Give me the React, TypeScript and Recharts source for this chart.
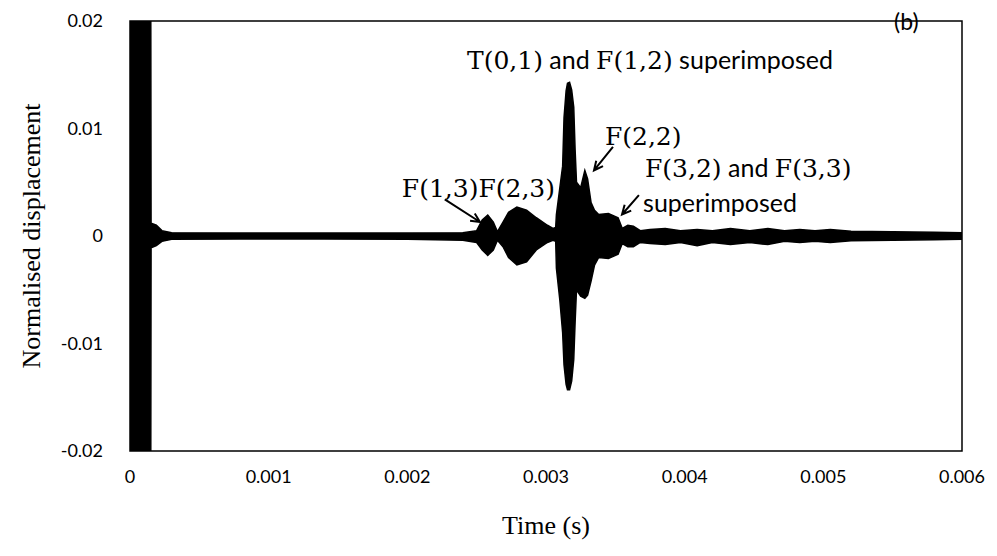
import React from "react"
import {
  ComposedChart,
  Area,
  XAxis,
  YAxis,
  ReferenceArea,
  ReferenceDot,
  ReferenceLine,
  Label,
} from "recharts"

// envelope of the normalised displacement trace
const TIME_S = [
  0, 0.00015, 0.000152, 0.00019, 0.00023, 0.0003, 0.0008, 0.0014, 0.002, 0.0024,
  0.0025, 0.00254, 0.00258, 0.00262, 0.00265, 0.00269, 0.00273, 0.00279, 0.00286, 0.00293,
  0.00301, 0.00305, 0.00307, 0.003075, 0.0031, 0.00312, 0.00313, 0.003145, 0.003155, 0.00317,
  0.003185, 0.0032, 0.00321, 0.00322, 0.00325, 0.00328, 0.0033, 0.003325, 0.00335, 0.00338,
  0.00345, 0.00352, 0.00355, 0.00359, 0.00363, 0.00368, 0.00375, 0.00386, 0.00397, 0.00409,
  0.0042, 0.00433, 0.00447, 0.0046, 0.00472, 0.00483, 0.00494, 0.00505, 0.0052, 0.0055,
  0.0058, 0.006,
]
const UPPER = [
  0.02, 0.02, 0.0012, 0.001, 0.0005, 0.0003, 0.00028, 0.00028, 0.00028, 0.0003,
  0.0005, 0.0015, 0.00195, 0.0013, 0.0004, 0.0013, 0.0022, 0.0027, 0.0024, 0.0017,
  0.001, 0.0007, 0.0008, 0.002, 0.0045, 0.0065, 0.011, 0.0135, 0.0142, 0.0143,
  0.0136, 0.012, 0.008, 0.005, 0.0045, 0.0061, 0.0053, 0.0031, 0.0024, 0.002,
  0.0021, 0.0017, 0.0007, 0.001, 0.0009, 0.0005, 0.0006, 0.0007, 0.0005, 0.0006,
  0.0005, 0.0007, 0.0005, 0.0007, 0.0005, 0.0006, 0.0005, 0.0006, 0.00045, 0.0004,
  0.00035, 0.0003,
]
const LOWER = [
  -0.02, -0.02, -0.0011, -0.0009, -0.0005, -0.0003, -0.00028, -0.00028, -0.0003, -0.0004,
  -0.0006, -0.0013, -0.0018, -0.0013, -0.0004, -0.001, -0.002, -0.0027, -0.0024, -0.0013,
  -0.0006, -0.0004, -0.0005, -0.003, -0.006, -0.009, -0.012, -0.0138, -0.0143, -0.0143,
  -0.0135, -0.0115, -0.008, -0.005, -0.0056, -0.0058, -0.0055, -0.0042, -0.0027, -0.002,
  -0.0021, -0.0017, -0.0007, -0.001, -0.001, -0.0006, -0.0007, -0.0008, -0.0006, -0.0009,
  -0.0006, -0.0008, -0.0006, -0.0008, -0.0005, -0.0006, -0.0005, -0.0006, -0.00045, -0.0004,
  -0.00035, -0.0003,
]

const X_TICKS = [0, 0.001, 0.002, 0.003, 0.004, 0.005, 0.006]
const Y_TICKS = [-0.02, -0.01, 0, 0.01, 0.02]

const SERIF = "DejaVu Serif"
const SANS = "Lato"

// text notes: anchor (time, value) at the start of the baseline
const NOTES = [
  { t: 0.00243, v: 0.0155, size: 25, parts: [["T(0,1)", SERIF], [" and ", SANS], ["F(1,2)", SERIF], [" superimposed", SANS]] },
  { t: 0.00196, v: 0.0036, size: 25, parts: [["F(1,3)F(2,3)", SERIF]] },
  { t: 0.003425, v: 0.0085, size: 25, parts: [["F(2,2)", SERIF]] },
  { t: 0.003714, v: 0.0055, size: 25, parts: [["F(3,2)", SERIF], [" and ", SANS], ["F(3,3)", SERIF]] },
  { t: 0.0037, v: 0.0022, size: 25, parts: [["superimposed", SANS]] },
  { t: 0.00551, v: 0.0192, size: 23, parts: [["(b)", SANS]] },
]

const ARROWS = [
  { from: [0.00227, 0.0034], to: [0.002524, 0.0013] },
  { from: [0.003483, 0.0083], to: [0.003346, 0.0061] },
  { from: [0.00367, 0.0038], to: [0.003548, 0.002] },
]

const data = TIME_S.map((t, i) => ({ t, band: [LOWER[i], UPPER[i]] }))

const fmt = (v: number) => String(v)

const noteShape = (parts: string[][], size: number) => (p: any) => (
  <text x={p.cx} y={p.cy} fill="#000" style={{ whiteSpace: "pre", fontSize: size }}>
    {parts.map(([txt, fam], i) => (
      <tspan key={i} style={{ fontFamily: fam, fontSize: size }}>
        {txt}
      </tspan>
    ))}
  </text>
)

const arrowShape = (p: any) => {
  const { x1, y1, x2, y2 } = p
  const a = Math.atan2(y2 - y1, x2 - x1)
  const h = 10
  const hx1 = x2 - h * Math.cos(a - 0.45)
  const hy1 = y2 - h * Math.sin(a - 0.45)
  const hx2 = x2 - h * Math.cos(a + 0.45)
  const hy2 = y2 - h * Math.sin(a + 0.45)
  return (
    <path
      d={`M${x1},${y1}L${x2},${y2}M${hx1},${hy1}L${x2},${y2}L${hx2},${hy2}`}
      stroke="#000"
      strokeWidth={2}
      fill="none"
    />
  )
}

export default function App() {
  return (
    <div style={{ position: "absolute", left: 0, top: 0, width: 997, height: 556, background: "#fff" }}>
      <ComposedChart width={997} height={556} data={data} margin={{ top: 21, right: 35, bottom: 0, left: 0 }}>
        <XAxis
          dataKey="t"
          type="number"
          domain={[0, 0.006]}
          ticks={X_TICKS}
          tickFormatter={fmt}
          height={105}
          axisLine={false}
          tickLine={false}
          tickMargin={13}
          tick={{ fontSize: 18, fill: "#000", fontFamily: SANS }}
        >
          <Label
            content={(p: any) => (
              <text
                x={p.viewBox.x + p.viewBox.width / 2}
                y={p.viewBox.y + 83}
                textAnchor="middle"
                fontFamily="Liberation Serif"
                fontSize={26}
                fill="#000"
              >
                Time (s)
              </text>
            )}
          />
        </XAxis>
        <YAxis
          type="number"
          domain={[-0.02, 0.02]}
          ticks={Y_TICKS}
          tickFormatter={fmt}
          allowDataOverflow
          width={130}
          axisLine={false}
          tickLine={false}
          tickMargin={21}
          tick={{ fontSize: 18, fill: "#000", fontFamily: SANS }}
        >
          <Label
            content={(p: any) => {
              const cx = p.viewBox.x + 31
              const cy = p.viewBox.y + p.viewBox.height / 2
              return (
                <text
                  x={cx}
                  y={cy}
                  transform={`rotate(-90 ${cx} ${cy})`}
                  textAnchor="middle"
                  dominantBaseline="central"
                  fontFamily="Liberation Serif"
                  fontSize={26}
                  fill="#000"
                >
                  Normalised displacement
                </text>
              )
            }}
          />
        </YAxis>
        <Area
          dataKey="band"
          type="linear"
          fill="#000"
          fillOpacity={1}
          stroke="#000"
          strokeWidth={1.5}
          isAnimationActive={false}
        />
        <ReferenceArea x1={0} x2={0.006} y1={-0.02} y2={0.02} fill="none" stroke="#000" strokeWidth={1.5} />
        {ARROWS.map((a, i) => (
          <ReferenceLine
            key={`arrow-${i}`}
            segment={[
              { x: a.from[0], y: a.from[1] },
              { x: a.to[0], y: a.to[1] },
            ]}
            shape={arrowShape}
          />
        ))}
        {NOTES.map((n, i) => (
          <ReferenceDot key={`note-${i}`} x={n.t} y={n.v} r={0} shape={noteShape(n.parts, n.size)} />
        ))}
      </ComposedChart>
    </div>
  )
}
